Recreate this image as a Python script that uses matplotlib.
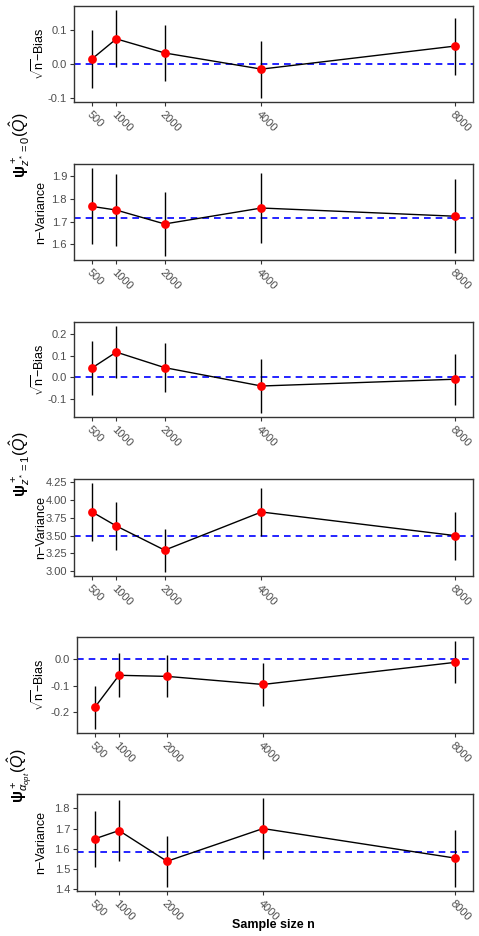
import matplotlib
matplotlib.use("Agg")
import matplotlib.pyplot as plt
from matplotlib.ticker import MultipleLocator, FormatStrFormatter
import numpy as np

plt.rcParams["font.family"] = ["Liberation Sans", "DejaVu Sans"]
plt.rcParams["mathtext.fontset"] = "custom"
plt.rcParams["mathtext.rm"] = "Liberation Sans"
plt.rcParams["mathtext.it"] = "Liberation Sans:italic"
plt.rcParams["mathtext.bf"] = "Liberation Sans:bold"
plt.rcParams["axes.unicode_minus"] = False

sample_sizes = [500, 1000, 2000, 4000, 8000]

# z*=0
bias_z0 = [0.015, 0.073, 0.032, -0.015, 0.052]
bias_z0_err = [0.084, 0.083, 0.082, 0.083, 0.083]
var_z0 = [1.767, 1.751, 1.690, 1.760, 1.724]
var_z0_err = [0.167, 0.157, 0.139, 0.155, 0.163]
var_z0_true = 1.714

# z*=1
bias_z1 = [0.044, 0.116, 0.045, -0.039, -0.008]
bias_z1_err = [0.122, 0.118, 0.113, 0.122, 0.117]
var_z1 = [3.83, 3.634, 3.296, 3.83, 3.50]
var_z1_err = [0.40, 0.33, 0.30, 0.34, 0.335]
var_z1_true = 3.495

# alpha_opt
bias_ao = [-0.180, -0.062, -0.066, -0.096, -0.014]
bias_ao_err = [0.080, 0.082, 0.078, 0.081, 0.078]
var_ao = [1.649, 1.690, 1.537, 1.700, 1.553]
var_ao_err = [0.139, 0.152, 0.126, 0.150, 0.142]
var_ao_true = 1.581

group_labels = [r"$\mathbf{\psi}^+_{z^*=0}(\hat{Q})$",
                r"$\mathbf{\psi}^+_{z^*=1}(\hat{Q})$",
                r"$\mathbf{\psi}^+_{\alpha_{opt}}(\hat{Q})$"]

panels = [
    (bias_z0, bias_z0_err, 0.0, 0.1, "%.1f", "bias"),
    (var_z0, var_z0_err, var_z0_true, 0.1, "%.1f", "var"),
    (bias_z1, bias_z1_err, 0.0, 0.1, "%.1f", "bias"),
    (var_z1, var_z1_err, var_z1_true, 0.25, "%.2f", "var"),
    (bias_ao, bias_ao_err, 0.0, 0.1, "%.1f", "bias"),
    (var_ao, var_ao_err, var_ao_true, 0.1, "%.1f", "var"),
]

W, H = 479, 936
# pixel boxes: left, top, right, bottom
boxes = [
    (74, 6, 473, 102),
    (74, 164, 473, 260),
    (74, 322, 473, 417),
    (74, 479, 473, 576),
    (77, 637, 473, 733),
    (77, 794, 473, 891),
]

fig = plt.figure(figsize=(W / 100, H / 100), dpi=100)
x = np.array(sample_sizes)
xr = x.max() - x.min()

for (vals, errs, ref, step, fmt, kind), (l, t, r, b) in zip(panels, boxes):
    ax = fig.add_axes([l / W, 1 - b / H, (r - l) / W, (b - t) / H])
    vals = np.array(vals)
    errs = np.array(errs)
    ax.axhline(ref, color="blue", linestyle=(0, (4, 3)), linewidth=1.2, zorder=1)
    ax.vlines(x, vals - errs, vals + errs, color="black", linewidth=1.0, zorder=2)
    ax.plot(x, vals, color="black", linewidth=1.0, zorder=3)
    ax.scatter(x, vals, color="red", s=40, zorder=4, linewidths=0)
    ax.set_xlim(x.min() - 0.05 * xr, x.max() + 0.05 * xr)
    lo = (vals - errs).min()
    hi = (vals + errs).max()
    lo, hi = min(lo, ref), max(hi, ref)
    ax.set_ylim(lo - 0.05 * (hi - lo), hi + 0.05 * (hi - lo))
    ax.yaxis.set_major_locator(MultipleLocator(step))
    ax.yaxis.set_major_formatter(FormatStrFormatter(fmt))
    ax.set_xticks(sample_sizes)
    ax.set_xticklabels([str(s) for s in sample_sizes], rotation=-45,
                       ha="left", va="top", rotation_mode="anchor")
    ax.tick_params(axis="both", labelsize=8, labelcolor="#4D4D4D",
                   length=3, width=0.8, color="#333333", pad=2)
    for sp in ax.spines.values():
        sp.set_linewidth(1.0)
        sp.set_color("#333333")
    if kind == "bias":
        ax.set_ylabel(r"$\sqrt{\mathrm{n}}$" + "\u2212Bias", fontsize=9)
    else:
        ax.set_ylabel("n\u2212Variance", fontsize=9)
    ax.yaxis.set_label_coords(-(l - 47) / (r - l), 0.5)

group_y = [145, 464, 776]
for lab, gy in zip(group_labels, group_y):
    fig.text(20 / W, 1 - gy / H, lab, rotation=90, ha="center", va="center",
             fontsize=11.5)

fig.text((74 + 473) / 2 / W, 1 - 925 / H, "Sample size n", ha="center",
         va="center", fontsize=9, fontweight="bold")

fig.savefig("out.png", dpi=100)
